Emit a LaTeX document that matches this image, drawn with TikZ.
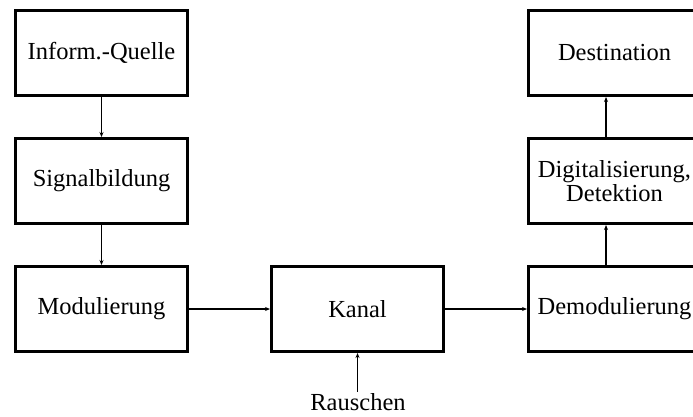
\documentclass[tikz,border=0pt]{standalone}
\usepackage{fontspec}
\setmainfont{Liberation Serif}
\usetikzlibrary{arrows.meta}
\begin{document}
\begin{tikzpicture}[x=1pt,y=-1pt,
  blk/.style={draw, line width=3pt, minimum width=172pt, minimum height=85pt, inner sep=0pt, align=center,
    font=\fontsize{24.5}{24.5}\selectfont},
  arr/.style={line width=1.8pt, -{Stealth[length=5pt,width=4pt]}},
  lbl/.style={inner sep=1.5pt, font=\fontsize{24.5}{25}\selectfont}]
\useasboundingbox (0,0) rectangle (693,416);
\node[blk] (iq) at (101.5,53) {Inform.-Quelle};
\node[blk] (sb) at (101.5,181) {Signalbildung};
\node[blk] (mo) at (101.5,309) {Modulierung};
\node[blk] (ka) at (357.5,309) {Kanal};
\node[blk] (de) at (614.5,53) {Destination};
\node[blk] (dg) at (614.5,181) {Digitalisierung,\\Detektion};
\node[blk] (dm) at (614.5,309) {Demodulierung};
\node[lbl, anchor=base] (ra) at (358,410.5) {Rauschen};
\draw[arr] (iq.south) -- (sb.north);
\draw[arr] (sb.south) -- (mo.north);
\draw[arr] (mo.east) -- (ka.west);
\draw[arr] (ka.east) -- (dm.west);
\draw[arr] ([xshift=-8.5pt]dm.north) -- ([xshift=-8.5pt]dg.south);
\draw[arr] ([xshift=-8.5pt]dg.north) -- ([xshift=-8.5pt]de.south);
\draw[arr] (ra.north -| ka.south) -- (ka.south);
\end{tikzpicture}
\end{document}
